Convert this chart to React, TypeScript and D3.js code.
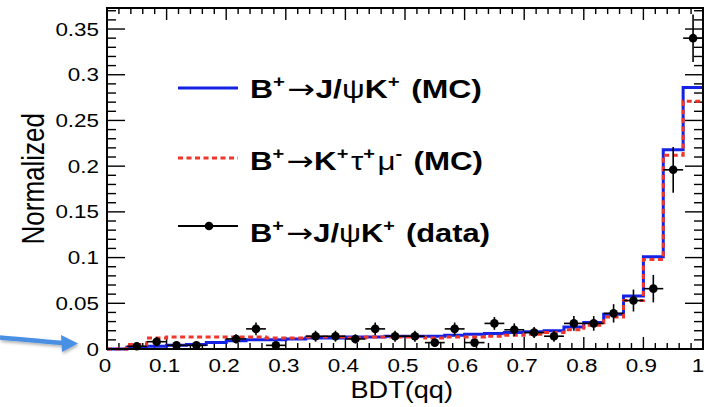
import React from "react";
import * as d3 from "d3";

// BDT(qq) response, 30 equal bins on [0, 1]
const nBins = 30;

// Normalized MC histograms
const mcJpsiK = [
  0, 0.002, 0.003, 0.004, 0.005, 0.007, 0.009, 0.01, 0.01, 0.011,
  0.012, 0.012, 0.013, 0.013, 0.014, 0.014, 0.014, 0.015, 0.016, 0.017,
  0.018, 0.019, 0.02, 0.024, 0.029, 0.038, 0.058, 0.101, 0.218, 0.286,
];
const mcKTauMu = [
  0, 0.005, 0.012, 0.013, 0.013, 0.013, 0.013, 0.013, 0.012, 0.012,
  0.013, 0.013, 0.012, 0.013, 0.013, 0.013, 0.012, 0.013, 0.013, 0.014,
  0.015, 0.016, 0.018, 0.021, 0.026, 0.035, 0.053, 0.098, 0.212, 0.271,
];

// Data (null = empty bin) with statistical uncertainties
const dataJpsiK: (number | null)[] = [
  null, 0.003, 0.008, 0.004, 0.004, null, 0.011, 0.022, 0.004, null,
  0.014, 0.014, 0.011, 0.022, 0.014, 0.014, 0.007, 0.022, 0.007, 0.028,
  0.021, 0.018, 0.014, 0.028, 0.028, 0.039, 0.053, 0.066, 0.196, 0.34,
];
const dataErr = [
  0, 0.003, 0.005, 0.003, 0.003, 0, 0.005, 0.007, 0.003, 0,
  0.006, 0.006, 0.005, 0.007, 0.006, 0.006, 0.004, 0.007, 0.004, 0.007,
  0.007, 0.006, 0.006, 0.008, 0.008, 0.01, 0.012, 0.015, 0.025, 0.026,
];

const xTickValues = [0, 0.1, 0.2, 0.3, 0.4, 0.5, 0.6, 0.7, 0.8, 0.9, 1];
const xTickLabels = ["0", "0.1", "0.2", "0.3", "0.4", "0.5", "0.6", "0.7", "0.8", "0.9", "1"];
const yTickValues = [0, 0.05, 0.1, 0.15, 0.2, 0.25, 0.3, 0.35];
const yTickLabels = ["0", "0.05", "0.1", "0.15", "0.2", "0.25", "0.3", "0.35"];

const W = 705;
const H = 407;
const FONT = "'Liberation Sans', Arial, Helvetica, sans-serif";
const SX = 1.18; // glyph width factor

const BLUE = "#1422e6";
const RED = "#f0362c";

const x = d3.scaleLinear().domain([0, 1]).range([107, 703]);
const y = d3.scaleLinear().domain([0, 0.373]).range([349, 8]);

function histPath(vals: number[]): string {
  const pts: [number, number][] = vals.map((v, i) => [i / nBins, v]);
  pts.push([1, vals[vals.length - 1]]);
  const line = d3
    .line<[number, number]>()
    .x((d) => x(d[0]))
    .y((d) => y(d[1]))
    .curve(d3.curveStepAfter);
  return line(pts) || "";
}

function SText(props: {
  x: number;
  y: number;
  anchor?: string;
  size: number;
  weight?: string;
  rotate?: number;
  children: React.ReactNode;
}) {
  const rot = props.rotate ? ` rotate(${props.rotate})` : "";
  return (
    <text
      transform={`translate(${props.x},${props.y}) scale(${SX},1)${rot}`}
      textAnchor={props.anchor || "start"}
      fontSize={props.size}
      fontWeight={props.weight || "normal"}
      fontFamily={FONT}
      fill="#000"
    >
      {props.children}
    </text>
  );
}

function Sup({ children }: { children: React.ReactNode }) {
  return (
    <>
      <tspan dy={-11} fontSize={16}>
        {children}
      </tspan>
      <tspan dy={11}>{"\u200A"}</tspan>
    </>
  );
}

function Arrow() {
  return (
    <tspan fontWeight="normal" fontFamily="'DejaVu Sans', sans-serif" fontSize={26}>
      {"\u2192"}
    </tspan>
  );
}

function LegendLabel(props: { y: number; length: number; children: React.ReactNode }) {
  return (
    <text
      x={250}
      y={props.y}
      fontSize={25}
      fontWeight="bold"
      fontFamily={FONT}
      textLength={props.length}
      lengthAdjust="spacingAndGlyphs"
      fill="#000"
    >
      {props.children}
    </text>
  );
}

export default function App() {
  const xMinor = d3.range(0, 1.0001, 0.02);
  const yMinor = d3.range(0, 0.3701, 0.01);
  const w = 1 / nBins;

  return (
    <svg
      width={W}
      height={H}
      style={{ position: "absolute", left: 0, top: 0, background: "#fff" }}
    >
      <defs>
        <filter id="shadow" x="-20%" y="-50%" width="140%" height="200%">
          <feDropShadow dx="1" dy="2" stdDeviation="1.5" floodColor="#000" floodOpacity="0.3" />
        </filter>
      </defs>
      <rect width={W} height={H} fill="#fff" />

      {/* ticks on all four sides */}
      <g stroke="#000" strokeWidth={1.4}>
        {xMinor.map((v, i) => {
          const major = i % 5 === 0;
          const len = major ? 12 : 6;
          return (
            <g key={"xt" + i}>
              <line x1={x(v)} x2={x(v)} y1={y(0)} y2={y(0) - len} />
              <line x1={x(v)} x2={x(v)} y1={8} y2={8 + len} />
            </g>
          );
        })}
        {yMinor.map((v, i) => {
          const major = i % 5 === 0;
          const len = major ? 18 : 9;
          return (
            <g key={"yt" + i}>
              <line x1={107} x2={107 + len} y1={y(v)} y2={y(v)} />
              <line x1={703} x2={703 - len} y1={y(v)} y2={y(v)} />
            </g>
          );
        })}
      </g>

      {/* MC histograms */}
      <path d={histPath(mcJpsiK)} fill="none" stroke={BLUE} strokeWidth={3} />
      <path
        d={histPath(mcKTauMu)}
        fill="none"
        stroke={RED}
        strokeWidth={3}
        strokeDasharray="5 3.5"
      />

      {/* data with error bars */}
      <g stroke="#000" strokeWidth={1.6}>
        {dataJpsiK.map((v, i) =>
          v === null ? null : (
            <g key={"d" + i}>
              <line x1={x(i * w)} x2={x((i + 1) * w)} y1={y(v)} y2={y(v)} />
              <line
                x1={x((i + 0.5) * w)}
                x2={x((i + 0.5) * w)}
                y1={y(v - dataErr[i])}
                y2={y(v + dataErr[i])}
              />
              <circle cx={x((i + 0.5) * w)} cy={y(v)} r={4.3} fill="#000" stroke="none" />
            </g>
          )
        )}
      </g>

      {/* frame */}
      <rect x={107} y={8} width={596} height={341} fill="none" stroke="#000" strokeWidth={2} />

      {/* tick labels */}
      {xTickValues.map((v, i) => (
        <SText
          key={"xl" + i}
          x={i === xTickValues.length - 1 ? x(v) - 5 : x(v) - 2}
          y={372}
          anchor="middle"
          size={19}
        >
          {xTickLabels[i]}
        </SText>
      ))}
      {yTickValues.map((v, i) => (
        <SText key={"yl" + i} x={99} y={y(v) + 6.5} anchor="end" size={19}>
          {yTickLabels[i]}
        </SText>
      ))}

      {/* axis titles */}
      <SText x={453} y={398} anchor="end" size={23}>
        BDT(qq)
      </SText>
      <SText x={44} y={113} anchor="end" size={26} rotate={-90}>
        Normalized
      </SText>

      {/* legend */}
      <line x1={178} x2={238} y1={88} y2={88} stroke={BLUE} strokeWidth={3} />
      <LegendLabel y={98} length={232}>
        B<Sup>+</Sup>
        <Arrow />J/
        <tspan fontWeight="normal">{"\u03C8"}</tspan>K<Sup>+</Sup> (MC)
      </LegendLabel>

      <line
        x1={178}
        x2={238}
        y1={158}
        y2={158}
        stroke={RED}
        strokeWidth={3}
        strokeDasharray="5 3.5"
      />
      <LegendLabel y={170} length={233}>
        B<Sup>+</Sup>
        <Arrow />K<Sup>+</Sup>
        <tspan fontWeight="normal">{"\u03C4"}</tspan>
        <Sup>+</Sup>
        <tspan fontWeight="normal">{"\u03BC"}</tspan>
        <Sup>-</Sup> (MC)
      </LegendLabel>

      <line x1={178} x2={238} y1={226} y2={226} stroke="#000" strokeWidth={1.8} />
      <circle cx={209} cy={226} r={4.3} fill="#000" />
      <LegendLabel y={242} length={240}>
        B<Sup>+</Sup>
        <Arrow />J/
        <tspan fontWeight="normal">{"\u03C8"}</tspan>K<Sup>+</Sup> (data)
      </LegendLabel>

      {/* pointer arrow at the zero line */}
      <g filter="url(#shadow)">
        <path d="M0,337.5 C20,339 40,341.5 64,343" fill="none" stroke="#4a8fe4" strokeWidth={4.5} />
        <path d="M78,343.5 L61,335 L62,352 Z" fill="#4a8fe4" />
      </g>
    </svg>
  );
}
